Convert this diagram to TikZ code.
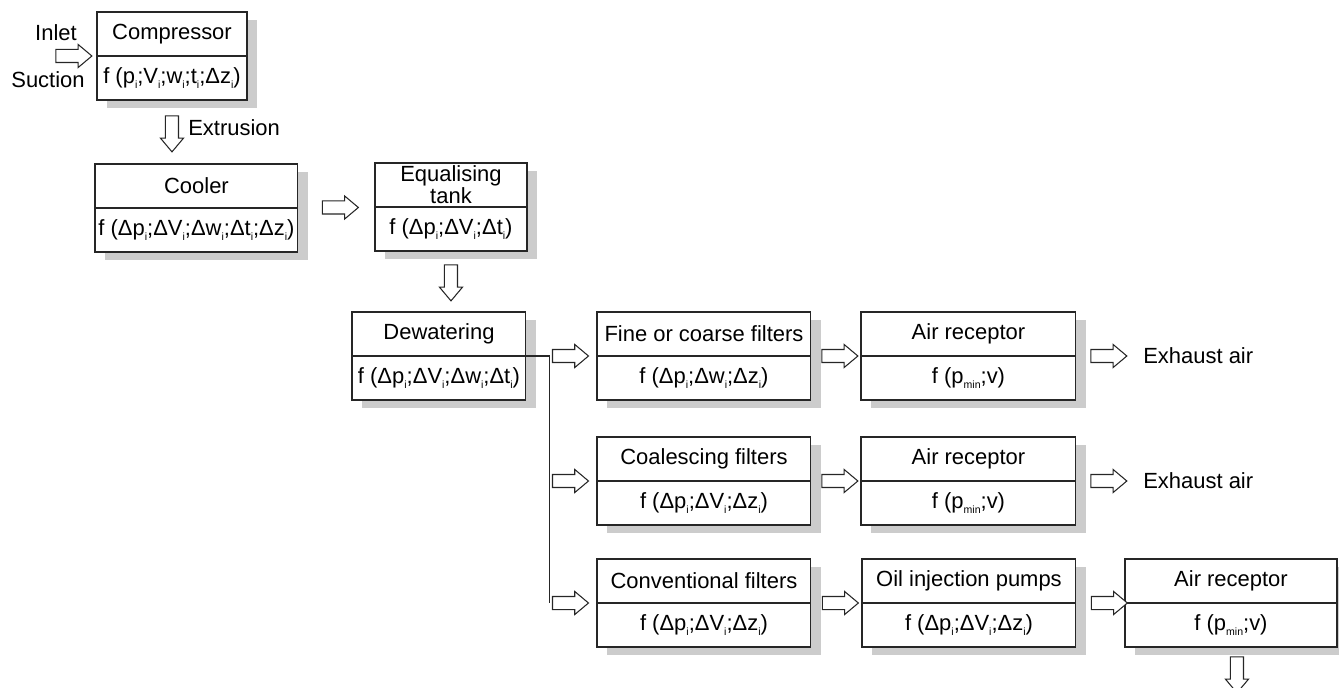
\documentclass[tikz,border=0pt]{standalone}
\usepackage{fontspec}
\setmainfont{Liberation Sans}
\usetikzlibrary{calc}
\usetikzlibrary{positioning}
\usetikzlibrary{shapes.arrows, shadows}

\newcommand{\lo}[1]{\raisebox{-0.45ex}{\fontsize{6}{6}\selectfont #1}}

\tikzset{
    cell/.style={draw=black!85, line width=0.6pt, fill=white, inner sep=1pt, outer sep=0pt,
        minimum height=0.88cm, align=center, font=\fontsize{12.5}{10}\selectfont,
        drop shadow={shadow xshift=0.2cm, shadow yshift=-0.16cm, fill=black!20, opacity=1}},
    hollow/.style={single arrow, draw=black!85, line width=0.6pt, fill=white,
        inner xsep=0pt, inner ysep=0.12cm, minimum height=0.72cm,
        single arrow head extend=0.1cm, single arrow tip angle=80},
    down/.style={hollow, shape border rotate=270, inner xsep=0.12cm, inner ysep=0pt},
    conn/.style={draw=black!85, line width=0.6pt},
    txt/.style={inner sep=0pt, font=\fontsize{12.5}{14}\selectfont},
}

\begin{document}
\begin{tikzpicture}[x=0.02cm, y=-0.02cm]
    \useasboundingbox (0,0) rectangle (1339,687);
    \clip (0,0) rectangle (1339,687);

    % compressor and cooling
    \node[cell, minimum width=3cm, anchor=north west] (comp) at (97,12) {Compressor};
    \node[cell, minimum width=3cm, below=0pt of comp] (comp-f) {f (p\lo{i};V\lo{i};w\lo{i};t\lo{i};Δz\lo{i})};

    \node[cell, minimum width=4.06cm, anchor=north west] (cool) at (95,164) {Cooler};
    \node[cell, minimum width=4.06cm, below=0pt of cool] (cool-f) {f (Δp\lo{i};ΔV\lo{i};Δw\lo{i};Δt\lo{i};Δz\lo{i})};

    \node[cell, minimum width=3.04cm, anchor=north west] (tank) at (375,163) {Equalising\\tank};
    \node[cell, minimum width=3.04cm, below=0pt of tank] (tank-f) {f (Δp\lo{i};ΔV\lo{i};Δt\lo{i})};

    \node[cell, minimum width=3.48cm, anchor=north west] (dew) at (352,312) {Dewatering};
    \node[cell, minimum width=3.48cm, below=0pt of dew] (dew-f) {f (Δp\lo{i};ΔV\lo{i};Δw\lo{i};Δt\lo{i})};

    % three lines of treatment
    \node[cell, minimum width=4.28cm, anchor=north west] (fine) at (597,312) {Fine or coarse filters};
    \node[cell, minimum width=4.28cm, below=0pt of fine] (fine-f) {f (Δp\lo{i};Δw\lo{i};Δz\lo{i})};
    \node[cell, minimum width=4.3cm, anchor=north west] (rec1) at (861,312) {Air receptor};
    \node[cell, minimum width=4.3cm, below=0pt of rec1] (rec1-f) {f (p\lo{min};v)};

    \node[cell, minimum width=4.28cm, anchor=north west] (coal) at (597,437) {Coalescing filters};
    \node[cell, minimum width=4.28cm, below=0pt of coal] (coal-f) {f (Δp\lo{i};ΔV\lo{i};Δz\lo{i})};
    \node[cell, minimum width=4.3cm, anchor=north west] (rec2) at (861,437) {Air receptor};
    \node[cell, minimum width=4.3cm, below=0pt of rec2] (rec2-f) {f (p\lo{min};v)};

    \node[cell, minimum width=4.28cm, anchor=north west] (conv) at (597,559) {Conventional filters};
    \node[cell, minimum width=4.28cm, below=0pt of conv] (conv-f) {f (Δp\lo{i};ΔV\lo{i};Δz\lo{i})};
    \node[cell, minimum width=4.28cm, anchor=north west] (oil) at (862,559) {Oil injection pumps};
    \node[cell, minimum width=4.28cm, below=0pt of oil] (oil-f) {f (Δp\lo{i};ΔV\lo{i};Δz\lo{i})};
    \node[cell, minimum width=4.24cm, anchor=north west] (rec3) at (1125,559) {Air receptor};
    \node[cell, minimum width=4.24cm, below=0pt of rec3] (rec3-f) {f (p\lo{min};v)};

    % flow arrows
    \node[hollow] (inlet) at ($(comp.south west)+(-27,0)$) {};
    \node[txt] at ($(inlet)+(-14,-23)$) {Inlet};
    \node[txt] at ($(inlet)+(-22,24)$) {Suction};

    \node[down] (extr) at ($(comp-f.south)+(0,30)$) {};
    \node[txt, anchor=west] at ($(extr)+(16,-2)$) {Extrusion};

    \node[hollow] (a-ct) at ($(cool.south east)!0.5!(tank.south west)$) {};
    \node[down] (a-td) at ($(tank-f.south)+(0,28)$) {};

    \coordinate (split) at ($(dew.south east)+(24,0)$);
    \draw[conn] (dew.south east) -- (split) -- (split |- conv.south);

    \node[hollow, anchor=west] (a-df) at ($(split)+(2,0)$) {};
    \node[hollow, anchor=west] (a-dc) at ($(split |- coal.south)+(2,0)$) {};
    \node[hollow, anchor=west] (a-dv) at ($(split |- conv.south)+(2,0)$) {};

    \node[hollow] (a-f1) at ($(fine.south east)!0.5!(rec1.south west)$) {};
    \node[hollow] (ex1) at ($(rec1.south east)+(29,0)$) {};
    \node[txt, anchor=west] at ($(ex1)+(38,0)$) {Exhaust air};

    \node[hollow] (a-c2) at ($(coal.south east)!0.5!(rec2.south west)$) {};
    \node[hollow] (ex2) at ($(rec2.south east)+(29,0)$) {};
    \node[txt, anchor=west] at ($(ex2)+(38,0)$) {Exhaust air};

    \node[hollow] (a-vo) at ($(conv.south east)!0.5!(oil.south west)$) {};
    \node[hollow] (a-or) at ($(oil.south east)!0.5!(rec3.south west)+(5,0)$) {};
    \node[down] (a-out) at ($(rec3-f.south)+(6,24)$) {};
\end{tikzpicture}
\end{document}
